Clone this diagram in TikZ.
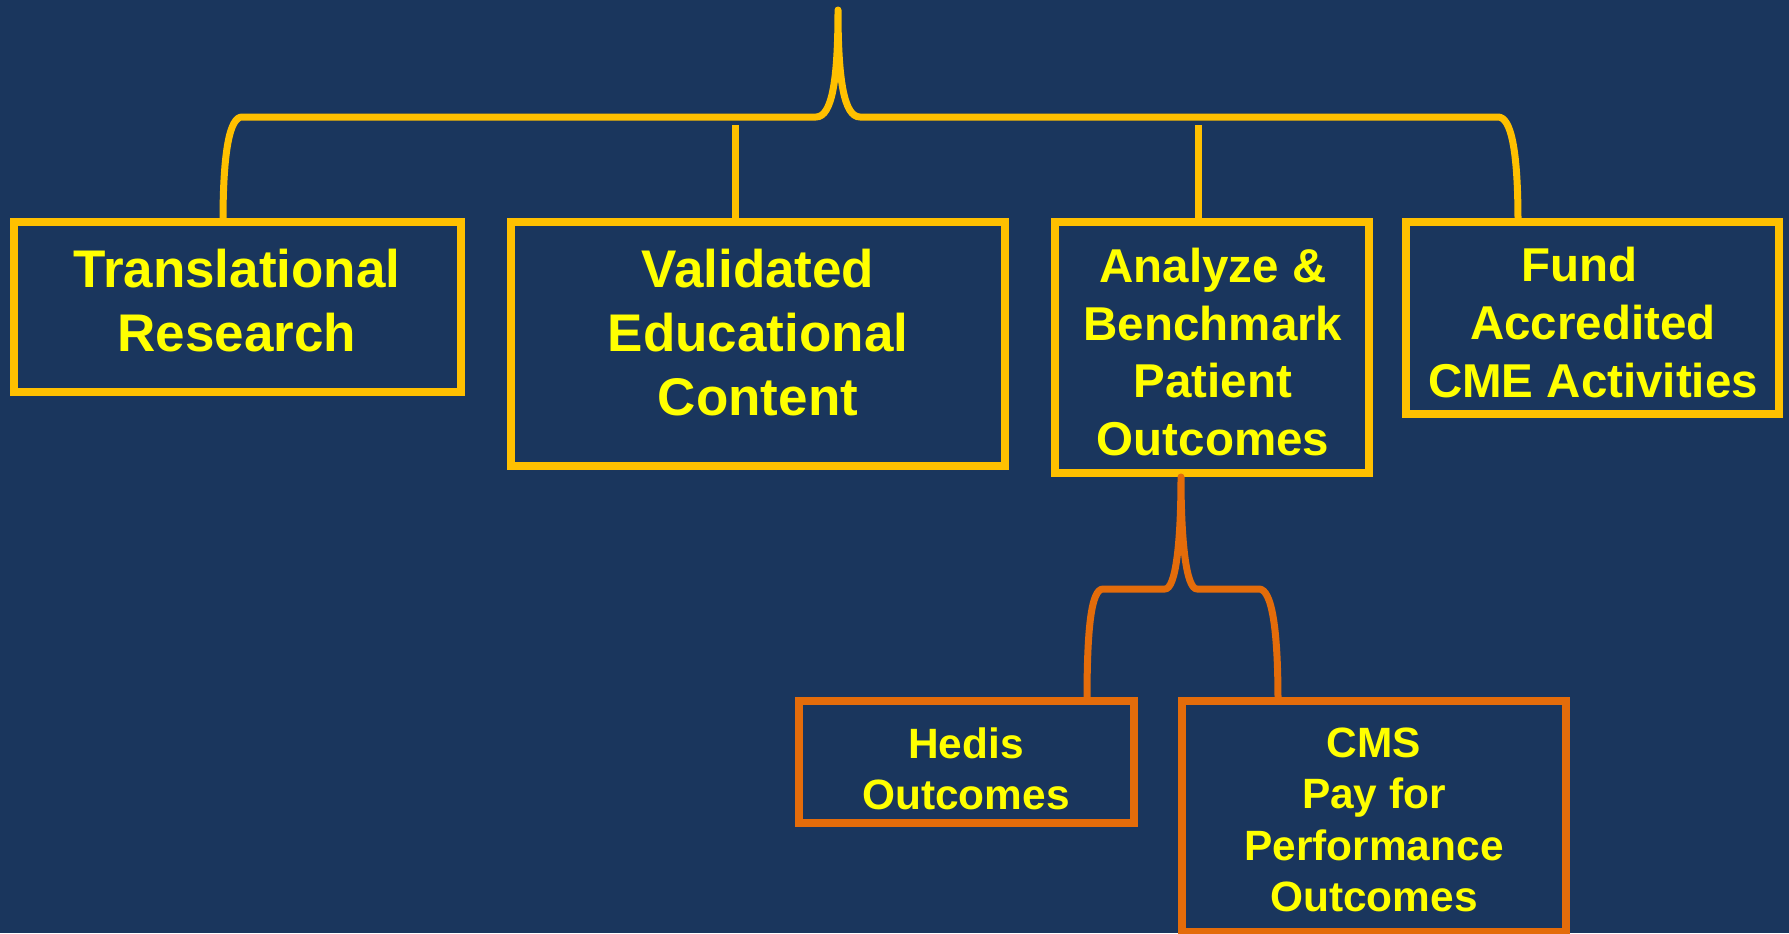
\documentclass[tikz,border=0pt]{standalone}
\usepackage{fontspec}
\setmainfont{Liberation Sans}
\definecolor{bg}{RGB}{26,54,93}
\definecolor{gold}{RGB}{255,192,0}
\definecolor{org}{RGB}{228,108,10}
\definecolor{txt}{RGB}{255,255,0}
\begin{document}
\begin{tikzpicture}[x=0.5pt,y=-0.5pt,
  box/.style={draw, line width=4pt, rectangle, inner sep=0pt, outer sep=0pt},
  ybox/.style={box, draw=gold},
  obox/.style={box, draw=org},
  lbl/.style={text=txt, align=center, inner sep=0pt},
  big/.style={lbl, font=\bfseries\fontsize{26.5}{32}\selectfont},
  mid/.style={lbl, font=\bfseries\fontsize{23.75}{28.9}\selectfont},
  sml/.style={lbl, font=\bfseries\fontsize{21.2}{25.75}\selectfont},
  ylink/.style={draw=gold, line width=3.5pt, line cap=round, line join=round},
  olink/.style={draw=org, line width=3.5pt, line cap=round, line join=round}]
\fill[bg] (0,0) rectangle (1789,933);
\useasboundingbox (0,0) rectangle (1789,933);

% boxes
\node[ybox, minimum width=223.5pt, minimum height=85pt] (box1) at (237.9,306.7) {};
\node[ybox, minimum width=247pt, minimum height=122pt] (box2) at (758,344) {};
\node[ybox, minimum width=157.25pt, minimum height=125.5pt] (box3) at (1211.75,347.5) {};
\node[ybox, minimum width=186.5pt, minimum height=96pt] (box4) at (1592.5,318) {};
\node[obox, minimum width=167.5pt, minimum height=61pt] (hedis) at (966,762) {};
\node[obox, minimum width=191.75pt, minimum height=115.5pt] (cms) at (1373.75,816.5) {};

% labels
\node[big] (t1) at (237,301) {Translational\\Research};
\node[big] (t2) at (758,333) {Validated\\Educational\\Content};
\node[mid] (t3) at (1213,352) {Analyze \&\\Benchmark\\Patient\\Outcomes};
\node[mid] (t4) at (1593,322.5) {Fund\hspace*{13.5pt}\\Accredited\\CME Activities};
\node[sml] (t5) at (966,769) {Hedis\\Outcomes};
\node[sml] (t6) at (1374,820) {CMS\\Pay for\\Performance\\Outcomes};

% yellow bracket
\coordinate (top) at (838,10);
\coordinate (c1) at (223,0);
\coordinate (c4) at (1518,0);
\draw[ylink] (box1.north -| c1) .. controls (223,150) and (230,117) .. (242,117)
  -- (816,117) .. controls (832,117) and (838,80) .. (top)
  .. controls (838,80) and (844,117) .. (860,117)
  -- (1498,117) .. controls (1511,117) and (1518,150) .. (box4.north -| c4);
\coordinate (c2) at (735,125);
\draw[ylink, line cap=butt] (c2) -- (c2 |- box2.north);
\coordinate (c3) at (1198,125);
\draw[ylink, line cap=butt] (c3) -- (c3 |- box3.north);

% orange bracket
\coordinate (otip) at (1181,477);
\coordinate (o1) at (1087,0);
\coordinate (o2) at (1278,0);
\draw[olink] (hedis.north -| o1) .. controls (1087,630) and (1091,589) .. (1103,589)
  -- (1165,589) .. controls (1176,589) and (1181,540) .. (otip)
  .. controls (1181,540) and (1186,589) .. (1197,589)
  -- (1259,589) .. controls (1272,589) and (1278,630) .. (cms.north -| o2);
\end{tikzpicture}
\end{document}
